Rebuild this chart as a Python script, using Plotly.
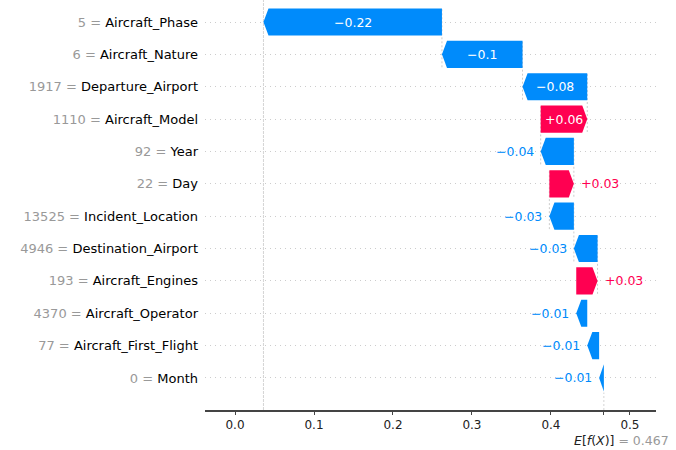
import plotly.graph_objects as go

# ---- data (top to bottom) ----
features = ["Aircraft_Phase", "Aircraft_Nature", "Departure_Airport", "Aircraft_Model",
            "Year", "Day", "Incident_Location", "Destination_Airport", "Aircraft_Engines",
            "Aircraft_Operator", "Aircraft_First_Flight", "Month"]
feature_values = ["5", "6", "1917", "1110", "92", "22", "13525", "4946", "193", "4370", "77", "0"]
shap_values = [-0.226, -0.102, -0.082, 0.059, -0.042, 0.031, -0.031, -0.030, 0.027, -0.014, -0.015, -0.006]
shap_labels = ["\u22120.22", "\u22120.1", "\u22120.08", "+0.06", "\u22120.04", "+0.03", "\u22120.03",
               "\u22120.03", "+0.03", "\u22120.01", "\u22120.01", "\u22120.01"]
base_value = 0.467
x_ticks = [0.0, 0.1, 0.2, 0.3, 0.4, 0.5]

BLUE = "#008bfb"
RED = "#ff0051"
FONT = "DejaVu Sans, sans-serif"

n = len(features)
fx = base_value + sum(shap_values)
rows = [n - 1 - i for i in range(n)]

starts = [0.0] * n
ends = [0.0] * n
cum = base_value
for i in reversed(range(n)):
    starts[i] = cum
    cum += shap_values[i]
    ends[i] = cum

fig = go.Figure()
half = 0.42
hl_max = 0.0064
for i in range(n):
    v = shap_values[i]
    s, e, y = starts[i], ends[i], rows[i]
    hl = min(abs(v), hl_max)
    d = 1 if v > 0 else -1
    neck = e - d * hl
    xs = [s, neck, e, neck, s, s]
    ys = [y - half, y - half, y, y + half, y + half, y - half]
    col = RED if v > 0 else BLUE
    fig.add_trace(go.Scatter(x=xs, y=ys, mode="lines", fill="toself", fillcolor=col,
                             line=dict(width=0, color=col), hoverinfo="skip", showlegend=False))

for i in range(n):
    v = shap_values[i]
    s, e, y = starts[i], ends[i], rows[i]
    col = RED if v > 0 else BLUE
    if abs(v) > 0.05:
        fig.add_annotation(x=(s + e) / 2, y=y, text=shap_labels[i], showarrow=False,
                           font=dict(family=FONT, size=12.5, color="white"),
                           xanchor="center", yanchor="middle")
    else:
        if v < 0:
            fig.add_annotation(x=e, y=y, text=shap_labels[i], showarrow=False,
                               font=dict(family=FONT, size=12.5, color=col),
                               xanchor="right", yanchor="middle", xshift=-5)
        else:
            fig.add_annotation(x=e, y=y, text=shap_labels[i], showarrow=False,
                               font=dict(family=FONT, size=12.5, color=col),
                               xanchor="left", yanchor="middle", xshift=5)

for i in range(n):
    if i + 4 < n:
        fig.add_shape(type="line", x0=starts[i], x1=starts[i], y0=rows[i] - 1.4, y1=rows[i] + 0.4,
                      line=dict(color="#cccccc", width=1, dash="2px,2px"), layer="below")

ymin, ymax = -0.99, 11.68
fig.add_shape(type="line", x0=fx, x1=fx, y0=0, y1=1, yref="paper",
              line=dict(color="#d4d4d4", width=1, dash="3px,1px"), layer="below")
fig.add_shape(type="line", x0=base_value, x1=base_value, y0=ymin, y1=-0.45,
              line=dict(color="#d4d4d4", width=1, dash="2px,2px"), layer="below")

ticktext = [f"<span style='color:#999999'>{fv} = </span>{f}" for f, fv in zip(features, feature_values)]

fig.add_annotation(x=base_value, y=0, yref="paper", xref="x", yshift=-30, xshift=-32,
                   text="<i>E</i>[<i>f</i>(<i>X</i>)]<span style='color:#999999'> = 0.467</span>",
                   showarrow=False, xanchor="left", yanchor="middle",
                   font=dict(family=FONT, size=12.5, color="#222222"))

fig.update_layout(
    width=676, height=450,
    margin=dict(l=205, r=20, t=0, b=40),
    plot_bgcolor="white", paper_bgcolor="white",
    font=dict(family=FONT),
    xaxis=dict(range=[-0.038, 0.533], tickvals=x_ticks + [base_value],
               ticktext=[f"{t:.1f}" for t in x_ticks] + [""],
               showgrid=False, zeroline=False, showline=True, linecolor="#444444", linewidth=1.5,
               ticks="outside", ticklen=3, tickcolor="#444444",
               tickfont=dict(family=FONT, size=12, color="#222222")),
    yaxis=dict(range=[ymin, ymax], tickvals=rows, ticktext=ticktext,
               showgrid=True, gridcolor="#cccccc", griddash="1px,4px", gridwidth=1,
               zeroline=False, showline=False, ticks="", ticklabelstandoff=6,
               tickfont=dict(family=FONT, size=13, color="#000000")),
)

fig.write_html("out.html")
